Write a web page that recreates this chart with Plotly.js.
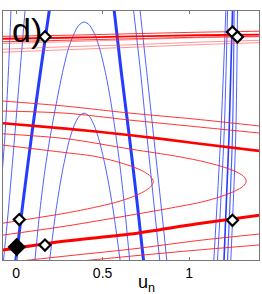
<!DOCTYPE html>
<html><head><meta charset="utf-8">
<script src="https://cdn.plot.ly/plotly-3.0.1.min.js"></script>
<style>html,body{margin:0;padding:0;background:#fff;}#chart{width:262px;height:294px;}</style>
</head><body><div id="chart"></div>
<script>
// x-axis ticks
const xTickVals = [0, 0.5, 1];
const xTickText = ['0', '0.5', '1'];

// ---- blue curves (u-nullcline branches) ----
const blueThickLeftX = [0.1963, 0.142, 0.0901, 0.0416, -0.0046];
const blueThickLeftY = [1.403, 1.0277, 0.6524, 0.2771, -0.0982];
const blueThickRightX = [0.5635, 0.6068, 0.6536, 0.698, 0.7402];
const blueThickRightY = [1.403, 1.0277, 0.6524, 0.2771, -0.104];
const blueBigArchX = [0.1057, 0.138, 0.1669, 0.1986, 0.2361, 0.265, 0.2997, 0.3308, 0.3626, 0.3938, 0.4249, 0.4567, 0.4856, 0.5196, 0.5462, 0.5768, 0.6034, 0.6288, 0.6594];
const blueBigArchY = [-0.104, 0.2194, 0.4503, 0.6524, 0.8545, 0.9988, 1.1432, 1.2298, 1.2875, 1.3066, 1.2875, 1.2298, 1.1432, 0.9988, 0.8545, 0.6524, 0.4503, 0.2194, -0.104];
const blueSmallArchX = [0.19, 0.2309, 0.2691, 0.3077, 0.3366, 0.3649, 0.3938, 0.4226, 0.4509, 0.4798, 0.5202, 0.5612, 0.6055];
const blueSmallArchY = [-0.104, 0.2194, 0.4503, 0.6236, 0.7102, 0.7621, 0.7794, 0.7621, 0.7102, 0.6236, 0.4503, 0.2194, -0.104];
const blueThinAX = [-0.0283, -0.0439, -0.0641, -0.0814];
const blueThinAY = [1.403, 1.0277, 0.6524, 0.4215];
const blueThinBX = [0.0543, 0.0225, -0.0064, -0.0294, -0.0525, -0.0756];
const blueThinBY = [1.403, 1.0162, 0.664, 0.3926, 0.1328, -0.0982];
const blueThinCX = [0.6755, 0.7182, 0.7558, 0.7933, 0.8337];
const blueThinCY = [1.403, 1.0277, 0.6524, 0.2887, -0.104];
const blueThinDX = [0.7136, 0.754, 0.7945, 0.8337, 0.8747];
const blueThinDY = [1.403, 1.0277, 0.6524, 0.2887, -0.104];
const blueRightY = [1.403, 0.6524, -0.104];
const blueRight1X = [1.2136, 1.183, 1.1409];
const blueRight2X = [1.2229, 1.2021, 1.1622];
const blueRight3X = [1.2517, 1.2309, 1.2003];
const blueRight4X = [1.2604, 1.2506, 1.2206];
const blueRight5X = [1.28, 1.2696, 1.2396];

// ---- red curves (v-nullcline branches) ----
const redLineX = [-0.1, 0.2881, 0.6634, 1.0387, 1.43];
const redThickUpperY = [0.7235, 0.69, 0.6524, 0.6062, 0.5585];
const redThickLowerY = [-0.0155, 0.0404, 0.0808, 0.1386, 0.1935];
const redThinUpper1Y = [0.8516, 0.8199, 0.7794, 0.7448, 0.7027];
const redThinUpper2Y = [0.7921, 0.7794, 0.739, 0.7015, 0.6623];
const redThinLower1X = [-0.1, 0.2881, 0.6692, 1.0502, 1.43];
const redThinLower1Y = [-0.0883, -0.0462, -0.0058, 0.0433, 0.0837];
const redThinLower2X = [0.2881, 0.6692, 1.0502, 1.43];
const redThinLower2Y = [-0.0837, -0.0462, -0.0115, 0.02];
const redOuterX = [-0.1, 0.2881, 0.6634, 0.9232, 1.0704, 1.183, 1.2639, 1.3141, 1.3303, 1.3141, 1.2639, 1.183, 1.0704, 0.9232, 0.6634, 0.2881, -0.1];
const redOuterY = [0.6617, 0.6322, 0.5716, 0.5312, 0.5023, 0.4734, 0.4446, 0.4157, 0.3868, 0.358, 0.3291, 0.2973, 0.2656, 0.2367, 0.1905, 0.127, 0.0716];
const redInnerX = [-0.1, 0.2881, 0.448, 0.571, 0.6692, 0.7384, 0.7789, 0.7933, 0.7789, 0.7384, 0.6692, 0.571, 0.448, 0.2881, -0.1];
const redInnerY = [0.5976, 0.5514, 0.5312, 0.5023, 0.4717, 0.4417, 0.4128, 0.384, 0.3551, 0.3262, 0.2945, 0.2627, 0.2338, 0.2021, 0.1403];
const redTopX = [-0.1, 0.2881, 0.6692, 1.0387, 1.43];
const redTop1Y = [1.2235, 1.2298, 1.2385, 1.2471, 1.2535];
const redTop2Y = [1.2093, 1.2154, 1.2229, 1.2298, 1.2342];
const redTop3Y = [1.1918, 1.2009, 1.2096, 1.2182, 1.2245];
const redTop4Y = [1.1819, 1.1923, 1.2038, 1.2154, 1.2211];
const redTop5Y = [1.1482, 1.1634, 1.1749, 1.1894, 1.2015];
const redTop6Y = [1.1308, 1.1461, 1.1605, 1.1749, 1.188];

// ---- fixed points ----
const pointX = [0.1669, 1.2506, 1.2794, 0.0185, 0.1669, 1.2506];
const pointY = [1.2211, 1.2488, 1.22, 0.1646, 0.0173, 0.1605];
const clusterX = [0.0035];
const clusterY = [0.0058];

const BLUE_THICK = 'rgb(35,60,255)';
const BLUE_THIN = 'rgba(60,80,255,0.9)';
const RED_THICK = 'rgb(255,0,0)';
const RED_THIN = 'rgba(255,30,30,0.9)';
const RED_LIGHT = 'rgba(255,60,60,0.55)';

function line(x, y, color, width) {
  return {x: x, y: y, type: 'scatter', mode: 'lines', hoverinfo: 'skip', showlegend: false,
          line: {color: color, width: width, shape: 'spline', smoothing: 0.8}};
}

const traces = [
  line(blueThinAX, blueThinAY, BLUE_THIN, 1),
  line(blueThinBX, blueThinBY, BLUE_THIN, 1),
  line(blueThinCX, blueThinCY, BLUE_THIN, 1),
  line(blueThinDX, blueThinDY, BLUE_THIN, 1),
  line(blueBigArchX, blueBigArchY, BLUE_THIN, 1),
  line(blueSmallArchX, blueSmallArchY, BLUE_THIN, 1),
  line(blueRight1X, blueRightY, BLUE_THIN, 1),
  line(blueRight2X, blueRightY, BLUE_THIN, 1),
  line(blueRight3X, blueRightY, BLUE_THICK, 1.6),
  line(blueRight4X, blueRightY, BLUE_THIN, 1.2),
  line(blueRight5X, blueRightY, BLUE_THIN, 1),
  line(blueThickLeftX, blueThickLeftY, BLUE_THICK, 3),
  line(blueThickRightX, blueThickRightY, BLUE_THICK, 3),

  line(redTopX, redTop1Y, RED_THIN, 1),
  line(redTopX, redTop2Y, RED_THICK, 1.8),
  line(redTopX, redTop3Y, RED_THIN, 1),
  line(redTopX, redTop4Y, RED_LIGHT, 1),
  line(redTopX, redTop5Y, RED_LIGHT, 1),
  line(redTopX, redTop6Y, RED_LIGHT, 1),
  line(redLineX, redThinUpper1Y, RED_THIN, 1),
  line(redLineX, redThinUpper2Y, RED_THIN, 1),
  line(redThinLower1X, redThinLower1Y, RED_THIN, 1),
  line(redThinLower2X, redThinLower2Y, RED_THIN, 1),
  line(redOuterX, redOuterY, RED_THIN, 1),
  line(redInnerX, redInnerY, RED_THIN, 1),
  line(redLineX, redThickUpperY, RED_THICK, 2.6),
  line(redLineX, redThickLowerY, RED_THICK, 3),

  {x: clusterX, y: clusterY, type: 'scatter', mode: 'markers', hoverinfo: 'skip', showlegend: false, cliponaxis: false,
   marker: {symbol: 'diamond', size: 12, color: 'black', line: {color: 'black', width: 2}}},
  {x: pointX, y: pointY, type: 'scatter', mode: 'markers', hoverinfo: 'skip', showlegend: false, cliponaxis: false,
   marker: {symbol: 'diamond', size: 8.5, color: 'white', line: {color: 'black', width: 2.2}}}
];

const layout = {
  width: 262, height: 294,
  margin: {l: 3, r: 3, t: 11, b: 34, pad: 0},
  paper_bgcolor: 'white', plot_bgcolor: 'white',
  showlegend: false,
  font: {family: 'Liberation Sans, Arial, sans-serif', color: '#000'},
  xaxis: {range: [-0.0756, 1.404], tickvals: xTickVals, ticktext: xTickText,
          ticks: 'inside', ticklen: 3, tickwidth: 1, tickcolor: '#777',
          showline: true, linecolor: '#777', linewidth: 1.3, mirror: 'ticks',
          showgrid: false, zeroline: false,
          tickfont: {family: 'Liberation Sans, Arial, sans-serif', size: 14, color: '#000'}},
  yaxis: {range: [-0.069, 1.37], showticklabels: false, ticks: '',
          showline: true, linecolor: '#777', linewidth: 1.3, mirror: true,
          showgrid: false, zeroline: false},
  annotations: [
    {text: 'd)', xref: 'paper', yref: 'paper', x: 0.026, y: 0.922, xanchor: 'left', yanchor: 'middle',
     showarrow: false, font: {family: 'Liberation Sans, Arial, sans-serif', size: 34, color: '#000'}},
    {text: 'u<sub>n</sub>', xref: 'paper', yref: 'paper', x: 0.56, y: -0.094, xanchor: 'center', yanchor: 'middle',
     showarrow: false, font: {family: 'Liberation Sans, Arial, sans-serif', size: 18, color: '#000'}}
  ]
};

Plotly.newPlot('chart', traces, layout, {displayModeBar: false, staticPlot: true});
</script>
</body></html>
